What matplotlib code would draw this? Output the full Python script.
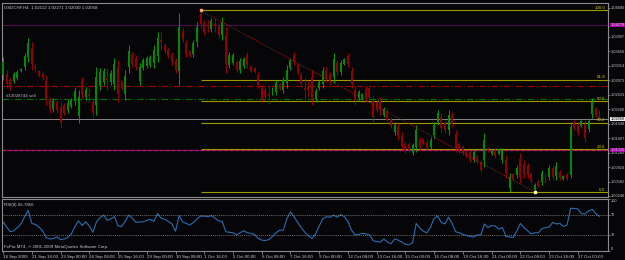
import matplotlib
matplotlib.use("Agg")
import matplotlib.pyplot as plt
import matplotlib.transforms as mtransforms

title = "USDCHF,H4  1.02112 1.02271 1.02030 1.02058"

opens = [1.0310, 1.0312, 1.0298, 1.0296, 1.0303, 1.0319, 1.0329, 1.0352, 1.0374, 1.0329,
         1.0319, 1.0312, 1.0296, 1.0251, 1.0230, 1.0246, 1.0234, 1.0239, 1.0227, 1.0237,
         1.0249, 1.0213, 1.0296, 1.0258, 1.0265, 1.0246, 1.0239, 1.0284, 1.0293, 1.0303,
         1.0293, 1.0289, 1.0327, 1.0293, 1.0265, 1.0329, 1.0357, 1.0350, 1.0296, 1.0327,
         1.0331, 1.0334, 1.0338, 1.0355, 1.0393, 1.0381, 1.0369, 1.0357, 1.0343, 1.0319,
         1.0414, 1.0386, 1.0367, 1.0360, 1.0388, 1.0454, 1.0433, 1.0428, 1.0419, 1.0430,
         1.0426, 1.0404, 1.0402, 1.0334, 1.0338, 1.0341, 1.0322, 1.0331, 1.0357, 1.0331,
         1.0327, 1.0310, 1.0279, 1.0275, 1.0265, 1.0268, 1.0270, 1.0289, 1.0275, 1.0291,
         1.0327, 1.0357, 1.0334, 1.0310, 1.0279, 1.0282, 1.0305, 1.0253, 1.0279, 1.0289,
         1.0322, 1.0310, 1.0305, 1.0338, 1.0317, 1.0336, 1.0355, 1.0319, 1.0275, 1.0256,
         1.0253, 1.0277, 1.0279, 1.0249, 1.0246, 1.0249, 1.0216, 1.0225, 1.0206, 1.0175,
         1.0190, 1.0166, 1.0147, 1.0147, 1.0126, 1.0140, 1.0157, 1.0159, 1.0152, 1.0140,
         1.0168, 1.0199, 1.0211, 1.0197, 1.0180, 1.0216, 1.0171, 1.0147, 1.0140, 1.0128,
         1.0128, 1.0109, 1.0116, 1.0105, 1.0109, 1.0138, 1.0124, 1.0133, 1.0124, 1.0109,
         1.0109, 1.0043, 1.0076, 1.0074, 1.0112, 1.0100, 1.0095, 1.0076, 1.0039, 1.0060,
         1.0057, 1.0074, 1.0069, 1.0091, 1.0072, 1.0081, 1.0065, 1.0076, 1.0074, 1.0199,
         1.0192, 1.0190, 1.0194, 1.0183, 1.0218, 1.0230, 1.02112]
highs = [1.0352, 1.0322, 1.0303, 1.0317, 1.0322, 1.0327, 1.0362, 1.0397, 1.0388, 1.0338,
         1.0322, 1.0317, 1.0310, 1.0258, 1.0256, 1.0251, 1.0246, 1.0244, 1.0251, 1.0256,
         1.0282, 1.0275, 1.0305, 1.0282, 1.0279, 1.0256, 1.0329, 1.0327, 1.0327, 1.0327,
         1.0322, 1.0350, 1.0345, 1.0298, 1.0322, 1.0381, 1.0364, 1.0357, 1.0338, 1.0350,
         1.0355, 1.0357, 1.0381, 1.0411, 1.0411, 1.0386, 1.0374, 1.0364, 1.0350, 1.0456,
         1.0421, 1.0393, 1.0369, 1.0393, 1.0435, 1.0463, 1.0440, 1.0440, 1.0445, 1.0445,
         1.0433, 1.0447, 1.0423, 1.0364, 1.0362, 1.0345, 1.0350, 1.0352, 1.0364, 1.0334,
         1.0329, 1.0317, 1.0286, 1.0282, 1.0284, 1.0282, 1.0298, 1.0291, 1.0305, 1.0334,
         1.0350, 1.0364, 1.0338, 1.0317, 1.0303, 1.0298, 1.0322, 1.0279, 1.0298, 1.0329,
         1.0329, 1.0317, 1.0362, 1.0345, 1.0345, 1.0350, 1.0362, 1.0329, 1.0284, 1.0275,
         1.0268, 1.0284, 1.0286, 1.0263, 1.0251, 1.0258, 1.0234, 1.0232, 1.0211, 1.0199,
         1.0197, 1.0175, 1.0152, 1.0152, 1.0150, 1.0192, 1.0164, 1.0161, 1.0157, 1.0164,
         1.0199, 1.0227, 1.0220, 1.0204, 1.0227, 1.0223, 1.0180, 1.0152, 1.0145, 1.0133,
         1.0133, 1.0133, 1.0121, 1.0109, 1.0173, 1.0140, 1.0133, 1.0138, 1.0138, 1.0138,
         1.0121, 1.0079, 1.0079, 1.0098, 1.0126, 1.0109, 1.0102, 1.0081, 1.0055, 1.0062,
         1.0086, 1.0079, 1.0098, 1.0098, 1.0105, 1.0086, 1.0074, 1.0079, 1.0199, 1.0204,
         1.0199, 1.0204, 1.0204, 1.0209, 1.0256, 1.0234, 1.02271]
lows = [1.0298, 1.0279, 1.0275, 1.0291, 1.0298, 1.0317, 1.0322, 1.0341, 1.0322, 1.0317,
        1.0305, 1.0298, 1.0239, 1.0220, 1.0223, 1.0223, 1.0185, 1.0216, 1.0220, 1.0232,
        1.0239, 1.0197, 1.0256, 1.0251, 1.0246, 1.0211, 1.0216, 1.0275, 1.0286, 1.0275,
        1.0286, 1.0275, 1.0246, 1.0275, 1.0251, 1.0315, 1.0329, 1.0322, 1.0286, 1.0322,
        1.0327, 1.0329, 1.0327, 1.0341, 1.0369, 1.0362, 1.0350, 1.0334, 1.0315, 1.0286,
        1.0388, 1.0352, 1.0352, 1.0352, 1.0376, 1.0421, 1.0404, 1.0411, 1.0411, 1.0411,
        1.0397, 1.0393, 1.0315, 1.0327, 1.0334, 1.0317, 1.0315, 1.0327, 1.0327, 1.0317,
        1.0315, 1.0279, 1.0246, 1.0251, 1.0242, 1.0263, 1.0263, 1.0275, 1.0268, 1.0279,
        1.0322, 1.0334, 1.0310, 1.0282, 1.0251, 1.0258, 1.0239, 1.0246, 1.0275, 1.0279,
        1.0293, 1.0286, 1.0291, 1.0310, 1.0310, 1.0334, 1.0329, 1.0279, 1.0239, 1.0251,
        1.0251, 1.0246, 1.0251, 1.0197, 1.0223, 1.0216, 1.0211, 1.0197, 1.0185, 1.0168,
        1.0156, 1.0133, 1.0126, 1.0128, 1.0121, 1.0128, 1.0133, 1.0145, 1.0133, 1.0133,
        1.0161, 1.0192, 1.0175, 1.0173, 1.0168, 1.0187, 1.0128, 1.0126, 1.0121, 1.0114,
        1.0105, 1.0105, 1.0102, 1.0081, 1.0093, 1.0128, 1.0121, 1.0114, 1.0121, 1.0102,
        1.0067, 1.0034, 1.0062, 1.0067, 1.0055, 1.0067, 1.0067, 1.0055, 1.0034, 1.0046,
        1.0050, 1.0055, 1.0062, 1.0062, 1.0062, 1.0062, 1.0062, 1.0062, 1.0067, 1.0180,
        1.0168, 1.0187, 1.0152, 1.0175, 1.0209, 1.0211, 1.02030]
closes = [1.0341, 1.0289, 1.0279, 1.0312, 1.0317, 1.0324, 1.0355, 1.0386, 1.0336, 1.0327,
          1.0308, 1.0303, 1.0253, 1.0227, 1.0249, 1.0227, 1.0197, 1.0220, 1.0244, 1.0251,
          1.0272, 1.0258, 1.0265, 1.0275, 1.0260, 1.0220, 1.0305, 1.0317, 1.0319, 1.0298,
          1.0315, 1.0336, 1.0265, 1.0279, 1.0308, 1.0367, 1.0336, 1.0329, 1.0329, 1.0345,
          1.0350, 1.0352, 1.0369, 1.0397, 1.0388, 1.0367, 1.0355, 1.0341, 1.0322, 1.0423,
          1.0395, 1.0360, 1.0355, 1.0386, 1.0423, 1.0430, 1.0411, 1.0423, 1.0437, 1.0426,
          1.0404, 1.0435, 1.0336, 1.0357, 1.0357, 1.0322, 1.0343, 1.0348, 1.0334, 1.0319,
          1.0317, 1.0286, 1.0253, 1.0258, 1.0260, 1.0277, 1.0291, 1.0277, 1.0298, 1.0322,
          1.0345, 1.0341, 1.0315, 1.0289, 1.0275, 1.0275, 1.0256, 1.0272, 1.0293, 1.0319,
          1.0301, 1.0293, 1.0348, 1.0317, 1.0338, 1.0348, 1.0336, 1.0289, 1.0249, 1.0270,
          1.0265, 1.0253, 1.0258, 1.0211, 1.0227, 1.0225, 1.0230, 1.0204, 1.0190, 1.0192,
          1.0166, 1.0142, 1.0131, 1.0133, 1.0145, 1.0180, 1.0140, 1.0147, 1.0138, 1.0157,
          1.0192, 1.0220, 1.0185, 1.0180, 1.0216, 1.0194, 1.0138, 1.0131, 1.0126, 1.0119,
          1.0109, 1.0128, 1.0107, 1.0086, 1.0157, 1.0131, 1.0131, 1.0119, 1.0135, 1.0131,
          1.0079, 1.0069, 1.0065, 1.0091, 1.0069, 1.0076, 1.0074, 1.0060, 1.0050, 1.0048,
          1.0079, 1.0060, 1.0091, 1.0069, 1.0095, 1.0067, 1.0072, 1.0065, 1.0187, 1.0185,
          1.0175, 1.0201, 1.0161, 1.0201, 1.0246, 1.0216, 1.02058]

rsi = [56, 46, 37, 39, 45, 52, 66, 78, 53, 51,
       46, 39, 26, 23, 24, 27, 22, 23, 26, 33,
       47, 58, 49, 56, 48, 36, 56, 64, 69, 59,
       62, 66, 48, 47, 57, 69, 63, 55, 56, 56,
       59, 61, 57, 72, 63, 61, 57, 52, 38, 68,
       56, 53, 50, 55, 62, 67, 67, 66, 68, 63,
       58, 57, 37, 36, 35, 31, 35, 39, 35, 34,
       32, 24, 21, 20, 22, 28, 35, 40, 40, 62,
       75, 66, 55, 45, 36, 29, 24, 33, 48, 62,
       66, 65, 69, 65, 70, 66, 57, 40, 31, 32,
       34, 33, 31, 20, 18, 17, 23, 17, 14, 23,
       21, 17, 13, 12, 16, 53, 44, 38, 35, 46,
       63, 67, 55, 52, 65, 53, 37, 35, 32, 30,
       28, 27, 31, 31, 52, 45, 49, 48, 42, 45,
       28, 27, 26, 38, 53, 45, 39, 33, 35, 35,
       43, 45, 46, 55, 52, 53, 47, 50, 82, 82,
       81, 72, 71, 77, 80, 72, 66.79]
rsi_label = "RSI(8) 66.7856"

date_pos = [0, 8, 16, 24, 32, 40, 48, 56, 64, 72, 80, 88, 96, 104, 112, 120, 128, 136, 144, 152, 160]
date_labels = ["18 Sep 2009", "21 Sep 16:00", "23 Sep 00:00", "24 Sep 08:00", "25 Sep 16:00",
               "29 Sep 00:00", "30 Sep 08:00", "1 Oct 16:00", "5 Oct 00:00", "6 Oct 08:00",
               "7 Oct 16:00", "9 Oct 00:00", "12 Oct 08:00", "13 Oct 16:00", "15 Oct 00:00",
               "16 Oct 08:00", "19 Oct 16:00", "21 Oct 00:00", "22 Oct 08:00", "23 Oct 16:00",
               "27 Oct 00:00"]
# the label near 1.0434 is hidden behind the order-line tag in the terminal
price_ticks = [1.04680, 1.03997, 1.03656, 1.03314, 1.02973, 1.02631,
               1.02290, 1.01948, 1.01607, 1.01265, 1.00924, 1.00582, 1.00240]

fib_pcts = [100.0, 61.8, 50.0, 38.2, 23.6, 0.0]
fib_high, fib_low = 1.04621, 1.00334
fib_start, fib_end = 55, 148

level_purple = 1.04279
level_stop = 1.02838
level_order = 1.02531
level_bid = 1.02058
level_magenta = 1.01326

BG = "#060608"
FG = "#c8c8c8"
FS = 2.8
FT = 3.2
FONT = ["Liberation Sans", "DejaVu Sans"]
plt.rcParams["font.family"] = FONT

fig = plt.figure(figsize=(6.25, 2.6), dpi=100, facecolor=BG)
ax = fig.add_axes([2 / 625, 63 / 260, 606 / 625, 194 / 260], facecolor=BG)
ax2 = fig.add_axes([2 / 625, 9 / 260, 606 / 625, 52 / 260], facecolor=BG, sharex=ax)
x0, x1 = -0.3, 168.4

# candles
for i in range(len(closes)):
    up = closes[i] >= opens[i]
    wick = "#00b400" if up else "#b40000"
    body = "#008c00" if up else "#920000"
    ax.vlines(i, lows[i], highs[i], color=wick, lw=0.6, zorder=3)
    lo, hi = min(opens[i], closes[i]), max(opens[i], closes[i])
    ax.bar(i, max(hi - lo, 0.00005), bottom=lo, width=0.55, color=body, lw=0, zorder=4)

# horizontal lines
ax.axhline(level_purple, color="#4a104a", lw=0.8, zorder=2)
ax.axhline(level_stop, color="#a00000", lw=0.8, ls=(0, (6, 2, 1, 2)), zorder=2)
ax.axhline(level_order, color="#007000", lw=0.8, ls=(0, (6, 2, 1, 2)), zorder=2)
ax.axhline(level_bid, color="#9a9a9a", lw=0.6, zorder=2)
ax.axhline(level_magenta, color="#800080", lw=1.0, zorder=2)
ax.axhline(level_magenta, color="#c03030", lw=0.6, ls=(0, (4, 3)), zorder=2)
ax.text(0.8, level_order + 0.0003, "#13028744 sell", color="#b8b8b8", fontsize=FT, va="bottom", zorder=6)

# fibonacci
for p in fib_pcts:
    lv = fib_low + p / 100 * (fib_high - fib_low)
    ax.hlines(lv, fib_start, x1, color="#9a9a00", lw=0.8, zorder=2)
    ax.text(x1 - 0.8, lv + 0.0001, "%.1f" % p, color="#c8c800", fontsize=FT, ha="right", va="bottom", zorder=6)
ax.plot([fib_start, fib_end], [fib_high, fib_low], color="#b01818", lw=0.7, ls=(0, (1, 1.5)), zorder=5)
ax.plot([fib_start], [fib_high], "s", ms=1.8, color="#ff9a80", zorder=6)
ax.plot([fib_end], [fib_low], "s", ms=1.8, color="#ffffa0", zorder=6)

ax.set_xlim(x0, x1)
ax.set_ylim(1.00216, 1.04798)
ax.yaxis.tick_right()
ax.set_yticks(price_ticks)
ax.set_yticklabels(["%.5f" % v for v in price_ticks])
ax.tick_params(axis="y", colors="#a0a0a0", labelcolor=FG, labelsize=FS, length=1.5, width=0.5, pad=0.6)
ax.tick_params(axis="x", bottom=False, labelbottom=False)

trans = mtransforms.blended_transform_factory(ax.transAxes, ax.transData)
for lv, face, tc in [(level_purple, "#a000a0", "#f0d0f0"), (level_bid, "#e8e8e8", "#000000"),
                     (level_magenta, "#a000a0", "#f0d0f0")]:
    ax.text(1.004, lv, "%.5f" % lv, transform=trans, fontsize=FS, color=tc, va="center", ha="left",
            bbox=dict(boxstyle="square,pad=0.08", fc=face, ec="none"), clip_on=False, zorder=7)

ax.text(0.004, 0.988, title, transform=ax.transAxes, fontsize=FT, color=FG, va="top")

# RSI
ax2.plot(range(len(rsi)), rsi, color="#2a6cb0", lw=0.8)
for lv in (70, 30):
    ax2.axhline(lv, color="#909090", lw=0.5, ls=(0, (1.5, 1.5)))
ax2.set_ylim(0, 100)
ax2.yaxis.tick_right()
ax2.set_yticks([100, 70, 30, 0])
ax2.set_yticklabels(["100", "70", "30", "0"])
for lab, dy in zip(ax2.get_yticklabels(), ["top", "center", "center", "bottom"]):
    lab.set_va(dy)
ax2.tick_params(axis="y", colors="#a0a0a0", labelcolor=FG, labelsize=FS, length=1.5, width=0.5, pad=0.6)
ax2.set_xticks(date_pos)
ax2.set_xticklabels(date_labels, ha="left")
ax2.tick_params(axis="x", colors="#a0a0a0", labelcolor=FG, labelsize=FT, length=2.5, width=0.5, pad=0.6)
ax2.text(0.004, 0.93, rsi_label, transform=ax2.transAxes, fontsize=FT, color=FG, va="top")
ax2.text(0.004, 0.04, "FxPro MT4, \u00a9 2001-2009 MetaQuotes Software Corp.", transform=ax2.transAxes,
         fontsize=FT, color=FG, va="bottom")

for a in (ax, ax2):
    for s in a.spines.values():
        s.set_color("#8a8a8a")
        s.set_linewidth(0.8)

fig.savefig("out.png", dpi=100, facecolor=BG)
